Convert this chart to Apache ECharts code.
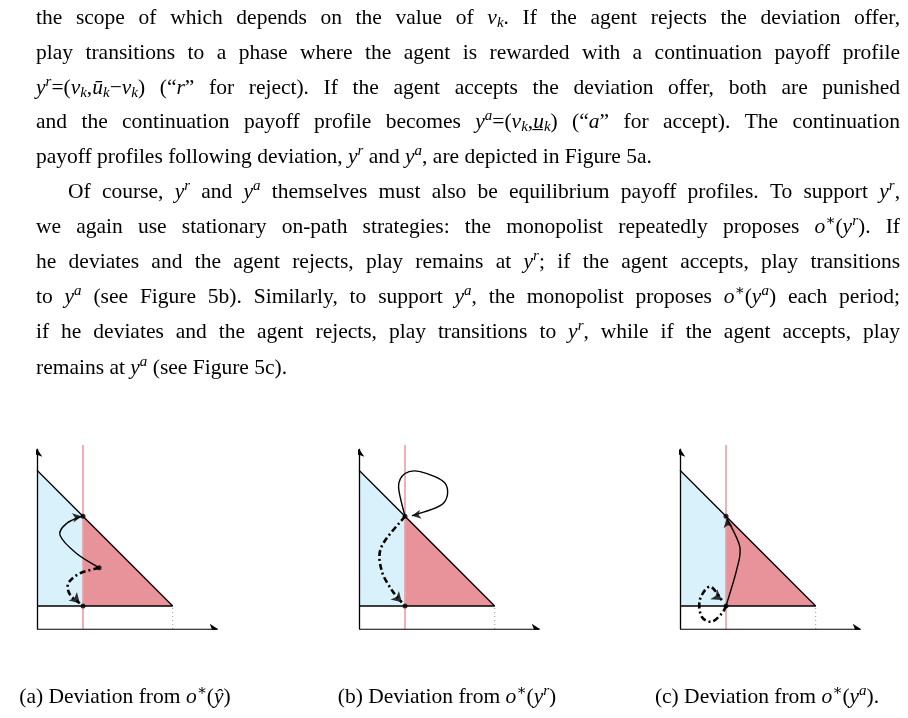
<!DOCTYPE html>
<html><head><meta charset="utf-8">
<script src="https://cdn.jsdelivr.net/npm/echarts@6/dist/echarts.min.js"></script>
<style>html,body{margin:0;padding:0;background:#fff}#c{width:908px;height:718px}</style>
</head><body><div id="c"></div>
<script>
// ---- data ----
var U_HI = 3.45, U_LO = 0.5, NU = 1, END = U_HI - U_LO;
var paragraphLines = [
 "the scope of which depends on the value of {i|ν}{sub|k}. If the agent rejects the deviation offer,",
 "play transitions to a phase where the agent is rewarded with a continuation payoff profile",
 "{i|y}{sup|r}{n|=(}{i|ν}{sub|k}{n|,}{i|ū}{sub|k}{n|−}{i|ν}{sub|k}{n|)} (“{i|r}” for reject). If the agent accepts the deviation offer, both are punished",
 "and the continuation payoff profile becomes {i|y}{sup|a}{n|=(}{i|ν}{sub|k}{n|,}{i|u̲}{sub|k}{n|)} (“{i|a}” for accept). The continuation",
 "payoff profiles following deviation, {i|y}{sup|r} and {i|y}{sup|a}, are depicted in {l|Figure} {l|5a}.",
 "Of course, {i|y}{sup|r} and {i|y}{sup|a} themselves must also be equilibrium payoff profiles. To support {i|y}{sup|r},",
 "we again use stationary on-path strategies: the monopolist repeatedly proposes {i|o}{supn|∗}{n|(}{i|y}{sup|r}{n|).} If",
 "he deviates and the agent rejects, play remains at {i|y}{sup|r}; if the agent accepts, play transitions",
 "to {i|y}{sup|a} (see {l|Figure} {l|5b}). Similarly, to support {i|y}{sup|a}, the monopolist proposes {i|o}{supn|∗}{n|(}{i|y}{sup|a}{n|)} each period;",
 "if he deviates and the agent rejects, play transitions to {i|y}{sup|r}, while if the agent accepts, play",
 "remains at {i|y}{sup|a} (see {l|Figure} {l|5c})."
];
var lineY = [18, 53, 88, 122, 157, 192, 227, 262, 297, 332, 368];
var lineIndent = [0,0,0,0,0,32,0,0,0,0,0];
var lineJustify = [1,1,1,1,0,1,1,1,1,1,0];
var captions = [
 "(a) Deviation from {i|o}{supn|∗}{n|(}{i|ŷ}{n|)}",
 "(b) Deviation from {i|o}{supn|∗}{n|(}{i|y}{sup|r}{n|)}",
 "(c) Deviation from {i|o}{supn|∗}{n|(}{i|y}{sup|a}{n|).}"
];
var captionX = [125, 447, 767];
var panelLeft = [37, 359, 680];
var solidCurves = [
 [[1.35,1.33],[0.86,1.64],[0.5,2.04],[0.65,2.30],[0.97,2.45]],
 [[1,2.45],[0.86,3.09],[1.0,3.38],[1.33,3.42],[1.87,3.17],[1.83,2.73],[1.15,2.46]],
 [[1,0.5],[1.23,1.28],[1.3,1.79],[1.02,2.40]]
];
var solidArrowRot = [-80, 100, 8];
var dashCurves = [
 [[1.35,1.33],[0.93,1.21],[0.68,0.99],[0.72,0.74],[0.93,0.56]],
 [[1,2.45],[0.49,1.79],[0.49,1.28],[0.71,0.85],[0.93,0.58]],
 [[1,0.5],[0.91,0.34],[0.69,0.16],[0.47,0.27],[0.43,0.63],[0.65,0.92],[0.91,0.63]]
];
var dashArrowRot = [-135, -135, -125];
var dots = [
 [[1,2.45],[1,0.5],[1.35,1.33]],
 [[1,2.45],[1,0.5]],
 [[1,2.45],[1,0.5]]
];
var hatLabel = [[1.62,1.33,"{i|ŷ}"]];

// ---- rendering ----
var FONT = '"Liberation Serif","DejaVu Serif",serif';
var FS = 21.5, SS = 15;
var rich = {
 n:{fontSize:FS,fontFamily:FONT,lineHeight:26,color:'#111'},
 i:{fontSize:FS,fontFamily:FONT,fontStyle:'italic',lineHeight:26,color:'#111'},
 sup:{fontSize:SS,fontFamily:FONT,fontStyle:'italic',verticalAlign:'top',lineHeight:14,color:'#111'},
 supn:{fontSize:SS,fontFamily:FONT,verticalAlign:'top',lineHeight:14,color:'#111'},
 sub:{fontSize:SS,fontFamily:FONT,fontStyle:'italic',verticalAlign:'bottom',lineHeight:14,color:'#111'},
 subn:{fontSize:SS,fontFamily:FONT,verticalAlign:'bottom',lineHeight:14,color:'#111'},
 l:{fontSize:FS,fontFamily:FONT,lineHeight:26,color:'#2323e6'}
};
var cv = document.createElement('canvas').getContext('2d');
function parse(s){var out=[],re=/\{(\w+)\|([^}]*)\}|([^{]+)/g,m;while((m=re.exec(s))){if(m[3])out.push(['n',m[3]]);else out.push([m[1],m[2]]);}return out;}
function measure(s){var w=0;parse(s).forEach(function(p){var st=rich[p[0]];cv.font=(st.fontStyle?'italic ':'')+st.fontSize+'px '+FONT;w+=cv.measureText(p[1]).width;});return w;}
function toRich(s){return parse(s).map(function(p){return '{'+p[0]+'|'+p[1]+'}';}).join('');}
var graphics=[];
var L=36,R=900;
paragraphLines.forEach(function(line,k){
 var words=line.split(' ');var ws=words.map(measure);
 var total=ws.reduce(function(a,b){return a+b;},0);
 var x0=L+lineIndent[k];
 cv.font=FS+'px '+FONT;var sp=cv.measureText(' ').width;
 if(lineJustify[k]&&words.length>1)sp=(R-x0-total)/(words.length-1);
 var x=x0;
 words.forEach(function(w,j){
  graphics.push({type:'text',x:x,y:lineY[k],style:{text:toRich(w),rich:rich,verticalAlign:'middle',align:'left'}});
  x+=ws[j]+sp;
 });
});
captions.forEach(function(c,k){
 graphics.push({type:'text',x:captionX[k],y:697,style:{text:toRich(c),rich:rich,verticalAlign:'middle',align:'center'}});
});
// Catmull-Rom path through the given points (rendering only)
function curvePath(pts){
 var d='M'+pts[0][0]+' '+pts[0][1];
 for(var i=0;i<pts.length-1;i++){
  var p0=pts[i-1]||pts[i],p1=pts[i],p2=pts[i+1],p3=pts[i+2]||p2;
  var c1=[p1[0]+(p2[0]-p0[0])/6,p1[1]+(p2[1]-p0[1])/6];
  var c2=[p2[0]-(p3[0]-p1[0])/6,p2[1]-(p3[1]-p1[1])/6];
  d+=' C'+c1[0]+' '+c1[1]+' '+c2[0]+' '+c2[1]+' '+p2[0]+' '+p2[1];
 }
 return d;
}
function curveSeries(data,ax,ls){
 return Object.assign({type:'custom',silent:true,z:5,data:[0],renderItem:function(params,api){
  var pts=data.map(function(q){return api.coord(q);});
  return {type:'path',shape:{pathData:curvePath(pts)},style:Object.assign({fill:null,stroke:'#000'},ls)};
 }},ax);
}

var grids=[],xAxes=[],yAxes=[],series=[];
panelLeft.forEach(function(left,p){
 grids.push({left:left,top:445,width:184,height:184});
 xAxes.push({gridIndex:p,type:'value',min:0,max:4,show:false});
 yAxes.push({gridIndex:p,type:'value',min:0,max:4,show:false});
 var ax={xAxisIndex:p,yAxisIndex:p};
 series.push(Object.assign({type:'custom',silent:true,z:1,data:[0],renderItem:function(params,api){
  var c=function(x,y){return api.coord([x,y]);};
  return {type:'group',children:[
   {type:'polygon',shape:{points:[c(0,U_HI),c(NU,U_HI-NU),c(NU,U_LO),c(0,U_LO)]},style:{fill:'#d9f1fb'}},
   {type:'polygon',shape:{points:[c(NU,U_HI-NU),c(END,U_LO),c(NU,U_LO)]},style:{fill:'#e89299'}}
  ]};}},ax));
 series.push(Object.assign({type:'line',data:[[NU,0],[NU,4]],symbol:'none',z:2,lineStyle:{color:'#eb9ea4',width:1.6}},ax));
 series.push(Object.assign({type:'line',data:[[0,U_HI],[END,U_LO]],symbol:'none',z:3,lineStyle:{color:'#000',width:1.3}},ax));
 series.push(Object.assign({type:'line',data:[[0,U_LO],[END,U_LO]],symbol:'none',z:3,lineStyle:{color:'#000',width:1.3}},ax));
 series.push(Object.assign({type:'line',data:[[END,0],[END,U_LO]],symbol:'none',z:3,lineStyle:{color:'#999',width:1,type:[1,3]}},ax));
 series.push(Object.assign({type:'lines',coordinateSystem:'cartesian2d',z:4,symbol:['none','arrow'],symbolSize:[0,8],
  lineStyle:{color:'#000',width:1.3,opacity:1},data:[{coords:[[0,0],[3.93,0]]},{coords:[[0,0],[0,3.92]]}]},ax));
 series.push(curveSeries(solidCurves[p],ax,{lineWidth:1.4}));
 series.push(curveSeries(dashCurves[p],ax,{lineWidth:2.6,lineDash:[6,3,2,3]}));
 var sc=solidCurves[p],dc=dashCurves[p];
 series.push(Object.assign({type:'scatter',z:6,symbol:'arrow',symbolSize:[7,9],itemStyle:{color:'#000'},
  data:[{value:sc[sc.length-1],symbolRotate:solidArrowRot[p]},{value:dc[dc.length-1],symbolRotate:dashArrowRot[p],symbolSize:[9,10]}]},ax));
 series.push(Object.assign({type:'scatter',z:7,symbol:'circle',symbolSize:5,itemStyle:{color:'#000'},data:dots[p]},ax));
 var labs=[[0.05,4.3,"{i|y}{sub|n}{subn|+1}"],[-0.42,3.45,"{i|ū}{sub|k}"],[-0.42,0.5,"{i|u̲}{sub|k}"],
  [1.27,2.72,"{i|y}{sup|r}"],[1.27,0.38,"{i|y}{sup|a}"],[1,-0.46,"{i|ν}{sub|k}"],
  [END,-0.46,"{i|ū}{sub|k}{n|−}{i|u̲}{sub|k}"],[4.3,0,"{i|y}{subn|1}"]];
 if(p===0)labs=labs.concat(hatLabel);
 series.push(Object.assign({type:'scatter',z:8,clip:false,symbol:'none',
  label:{show:true,position:'inside',formatter:function(d){return d.data[2];},rich:rich},
  data:labs},ax));
});

var chart=echarts.init(document.getElementById('c'));
chart.setOption({animation:false,backgroundColor:'#fff',grid:grids,xAxis:xAxes,yAxis:yAxes,series:series,graphic:graphics});
</script></body></html>
